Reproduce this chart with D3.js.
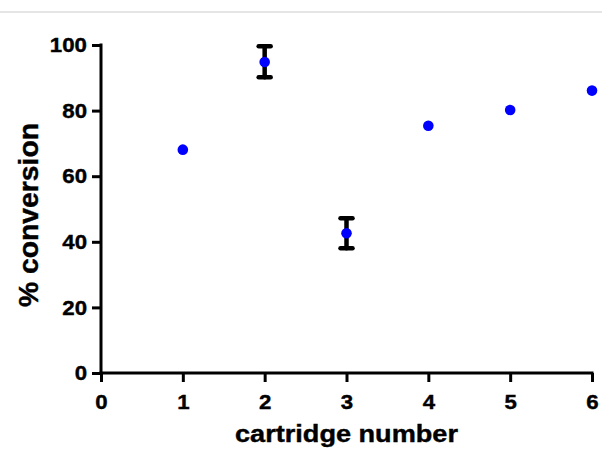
<!DOCTYPE html>
<html><head><meta charset="utf-8">
<script src="https://cdn.jsdelivr.net/npm/d3@7"></script>
<style>body{margin:0;background:#fff}svg{display:block}</style>
</head><body>
<script>
const cartridges = [1, 2, 3, 4, 5, 6];
const conversion = [68.1, 94.8, 42.6, 75.4, 80.2, 86.1];
const errLow = [null, 90.2, 38.0, null, null, null];
const errHigh = [null, 99.6, 47.2, null, null, null];
const xTicks = [0, 1, 2, 3, 4, 5, 6];
const yTicks = [0, 20, 40, 60, 80, 100];

const W = 602, H = 450;
const svg = d3.select("body").append("svg").attr("width", W).attr("height", H);
svg.append("line").attr("x1", 0).attr("x2", W).attr("y1", 12).attr("y2", 12)
  .attr("stroke", "#dcdcdc").attr("stroke-width", 1.5);

const x = d3.scaleLinear().domain([0, 6]).range([101, 592]);
const y = d3.scaleLinear().domain([0, 100]).range([373, 45]);
const font = "Liberation Sans, Arial, sans-serif";

const xAxis = svg.append("g").attr("transform", "translate(0,373)")
  .call(d3.axisBottom(x).tickValues(xTicks).tickSize(9).tickPadding(12).tickFormat(d3.format("d")));
const yAxis = svg.append("g").attr("transform", "translate(101,0)")
  .call(d3.axisLeft(y).tickValues(yTicks).tickSize(9).tickPadding(5).tickFormat(d3.format("d")));
[xAxis, yAxis].forEach(g => {
  g.select(".domain").remove();
  g.selectAll(".tick line").attr("stroke", "#000").attr("stroke-width", 3);
  g.selectAll("text").attr("fill", "#000").attr("stroke", "#000").attr("stroke-width", 0.4)
    .style("font-family", font)
    .style("font-size", "21px").style("font-weight", "bold")
    .each(function() {
      const L = this.getComputedTextLength();
      d3.select(this).attr("textLength", L * 1.06).attr("lengthAdjust", "spacingAndGlyphs");
    });
});
svg.append("line").attr("x1", x(0) - 1.5).attr("x2", x(6) + 1.5).attr("y1", y(0)).attr("y2", y(0))
  .attr("stroke", "#000").attr("stroke-width", 3);
svg.append("line").attr("x1", x(0)).attr("x2", x(0)).attr("y1", y(100) - 1.5).attr("y2", y(0))
  .attr("stroke", "#000").attr("stroke-width", 3);

const data = cartridges.map((c, i) => ({c, v: conversion[i], lo: errLow[i], hi: errHigh[i]}));
const eb = svg.append("g").selectAll("g").data(data.filter(d => d.lo !== null)).join("g")
  .attr("stroke", "#000").attr("stroke-width", 4.5).attr("stroke-linecap", "round");
eb.append("line").attr("x1", d => x(d.c)).attr("x2", d => x(d.c)).attr("y1", d => y(d.lo)).attr("y2", d => y(d.hi));
eb.append("line").attr("x1", d => x(d.c) - 6).attr("x2", d => x(d.c) + 6).attr("y1", d => y(d.lo)).attr("y2", d => y(d.lo));
eb.append("line").attr("x1", d => x(d.c) - 6).attr("x2", d => x(d.c) + 6).attr("y1", d => y(d.hi)).attr("y2", d => y(d.hi));

svg.append("g").selectAll("circle").data(data).join("circle")
  .attr("cx", d => x(d.c)).attr("cy", d => y(d.v)).attr("r", 5.3).attr("fill", "#0000ff");

svg.append("text").attr("x", 346.5).attr("y", 442).attr("text-anchor", "middle")
  .attr("textLength", 223).attr("lengthAdjust", "spacingAndGlyphs")
  .attr("stroke", "#000").attr("stroke-width", 0.4)
  .style("font-family", font).style("font-size", "24px").style("font-weight", "bold").text("cartridge number");
svg.append("text").attr("transform", "translate(37.5,215) rotate(-90)").attr("text-anchor", "middle")
  .attr("textLength", 184).attr("lengthAdjust", "spacingAndGlyphs")
  .attr("stroke", "#000").attr("stroke-width", 0.4)
  .style("font-family", font).style("font-size", "27px").style("font-weight", "bold").text("% conversion");
</script>
</body></html>
